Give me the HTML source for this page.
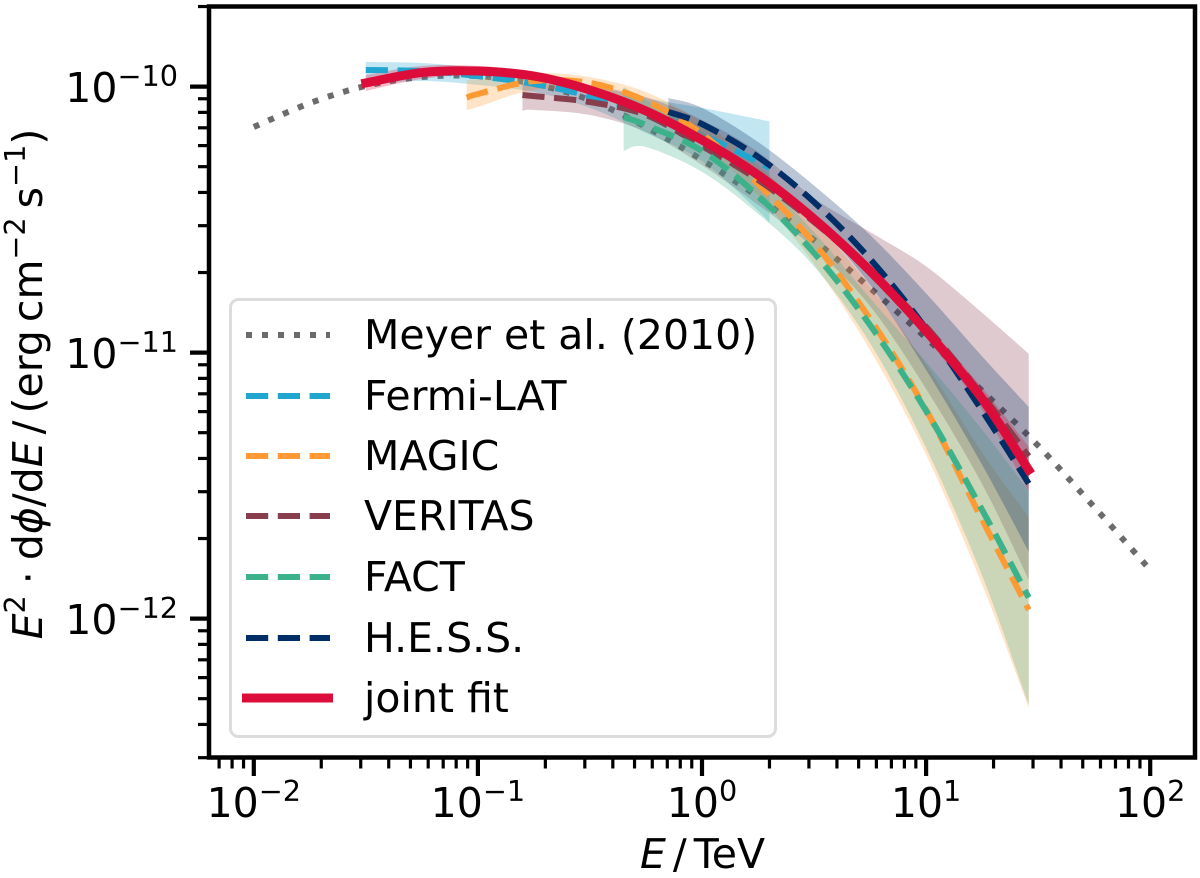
<!DOCTYPE html>
<html>
<head>
<meta charset="utf-8">
<title>Crab spectrum joint fit</title>
<style>
html,body{margin:0;padding:0;background:#fff;}
svg{display:block;font-family:"DejaVu Sans","Liberation Sans",sans-serif;fill:#000;}
</style>
</head>
<body>
<svg id="chart" width="1200" height="878" viewBox="0 0 1200 878" xmlns="http://www.w3.org/2000/svg">
  <g id="series-layer"></g>
  <g id="tick-layer"></g>
  <g id="legend">
    <rect x="230.5" y="299.5" width="545" height="437" rx="8" ry="8" fill="#fff" fill-opacity="0.8" stroke="#dcdcdc" stroke-width="3"/>
    <line x1="246" x2="330" y1="335" y2="335" stroke="#6b6b6b" stroke-width="6" stroke-dasharray="6 10"/>
    <text x="364" y="349" font-size="41">Meyer et al. (2010)</text>
    <line x1="246" x2="330" y1="396" y2="396" stroke="#21a6d0" stroke-width="6" stroke-dasharray="22.2 9.6"/>
    <text x="364" y="410" font-size="41">Fermi-LAT</text>
    <line x1="246" x2="330" y1="456" y2="456" stroke="#fe9a33" stroke-width="6" stroke-dasharray="22.2 9.6"/>
    <text x="364" y="470" font-size="41">MAGIC</text>
    <line x1="246" x2="330" y1="516" y2="516" stroke="#873e4d" stroke-width="6" stroke-dasharray="22.2 9.6"/>
    <text x="364" y="530" font-size="41">VERITAS</text>
    <line x1="246" x2="330" y1="577" y2="577" stroke="#3cb28a" stroke-width="6" stroke-dasharray="22.2 9.6"/>
    <text x="364" y="591" font-size="41">FACT</text>
    <line x1="246" x2="330" y1="638" y2="638" stroke="#002e66" stroke-width="6" stroke-dasharray="22.2 9.6"/>
    <text x="364" y="652" font-size="41">H.E.S.S.</text>
    <line x1="242" x2="333" y1="698" y2="698" stroke="#dc0d3a" stroke-width="9"/>
    <text x="364" y="712" font-size="41">joint fit</text>
  </g>
  <text x="702.5" y="868" font-size="41" text-anchor="middle"><tspan font-style="italic">E</tspan><tspan dx="7">/</tspan><tspan dx="7">TeV</tspan></text>
  <text transform="translate(42,384) rotate(-90)" font-size="41" text-anchor="middle"><tspan font-style="italic">E</tspan><tspan font-size="28.7" dy="-17">2</tspan><tspan dy="17" dx="11">·</tspan><tspan dx="11">d</tspan><tspan font-style="italic">ϕ</tspan><tspan>/d</tspan><tspan font-style="italic">E</tspan><tspan dx="7">/</tspan><tspan dx="7">(erg</tspan><tspan dx="8">cm</tspan><tspan font-size="28.7" dy="-17">−2</tspan><tspan dy="17" dx="9">s</tspan><tspan font-size="28.7" dy="-17">−1</tspan><tspan dy="17">)</tspan></text>
  <rect x="209" y="6.5" width="986" height="751" fill="none" stroke="#000" stroke-width="4.5"/>
</svg>
<script>
// Flux values are in units of 1e-11 erg cm^-2 s^-1; energies are in TeV.
const meyerEnergy = [0.01,0.0178,0.0316,0.0562,0.1,0.178,0.316,0.562,1,1.78,3.16,5.62,10,17.8,31.6,56.2,100];
const meyerFlux = [7.05,8.67,10.06,10.86,10.95,10.23,8.9,7.05,5.3,3.84,2.65,1.75,1.135,0.718,0.447,0.263,0.1525];

const fermiEnergy = [0.0316,0.0562,0.1,0.178,0.316,0.562,1,1.78,2.0];
const fermiFlux = [11.54,11.44,10.95,10.23,9.21,7.96,6.58,5.21,4.94];
const fermiUpper = [12.37,12.27,11.74,11.05,10.15,9.05,8.32,7.55,7.42];
const fermiLower = [10.15,10.5,10.15,9.54,8.32,6.7,5.25,3.41,3.07];

const magicEnergy = [0.0891,0.1,0.178,0.316,0.562,1,1.78,3.16,5.62,10,17.8,28.7];
const magicFlux = [9.09,9.38,10.5,10.32,8.83,6.64,4.3,2.58,1.34,0.609,0.235,0.108];
const magicUpper = [10.59,10.68,11.24,10.86,9.54,7.36,5.07,3.15,1.77,0.9,0.42,0.241];
const magicLower = [8.17,8.38,9.71,9.46,8.03,6.04,3.91,2.154,1.023,0.413,0.134,0.0462];

const veritasEnergy = [0.158,0.178,0.316,0.562,1,1.78,3.16,5.62,10,17.8,28.7];
const veritasFlux = [9.3,9.21,8.75,7.82,5.98,4.455,3.1,2.03,1.25,0.692,0.408];
const veritasUpper = [10.32,10.23,10.06,9.13,7.49,5.68,3.81,2.84,2.11,1.41,0.99];
const veritasLower = [8.1,8.17,7.82,6.75,5.07,3.59,2.47,1.497,0.73,0.32,0.14];

const factEnergy = [0.447,0.562,1,1.78,3.16,5.62,10,17.8,28.7];
const factFlux = [7.68,7.17,5.73,3.88,2.37,1.27,0.604,0.256,0.12];
const factUpper = [9.97,8.9,6.75,4.65,2.84,1.605,0.922,0.512,0.302];
const factLower = [5.73,5.93,4.78,3.32,2.11,1.087,0.438,0.1448,0.0474];

const hessEnergy = [0.708,1,1.78,3.16,5.62,10,17.8,28.7];
const hessFlux = [8.03,7.23,5.44,3.68,2.25,1.23,0.604,0.322];
const hessUpper = [9.05,8.32,6.19,4.25,2.77,1.67,0.967,0.625];
const hessLower = [7.17,6.41,4.78,3.15,1.8,0.861,0.378,0.1785];

const jointEnergy = [0.0316,0.0562,0.1,0.178,0.316,0.562,1,1.78,3.16,5.62,10,17.8,28.7];
const jointFlux = [10.32,11.29,11.44,10.95,9.71,8.1,6.3,4.65,3.18,2.03,1.207,0.67,0.362];
const jointUpper = [11.05,11.96,11.96,11.34,10.06,8.32,6.46,4.78,3.29,2.11,1.28,0.737,0.443];
const jointLower = [9.63,10.68,11.05,10.59,9.38,7.89,6.14,4.53,3.07,1.94,1.135,0.609,0.302];

const xTickExponents = [-2,-1,0,1,2];
const yTickExponents = [-10,-11,-12];
const xMinorDecades = [-3,-2,-1,0,1,2];
const yMinorDecades = [-13,-12,-11,-10];
const minorMultipliers = [2,3,4,5,6,7,8,9];

const NS = 'http://www.w3.org/2000/svg';
const seriesLayer = document.getElementById('series-layer');
const tickLayer = document.getElementById('tick-layer');

function xScale(energy){ return 702 + Math.log10(energy) * 224.1; }
function yScale(flux11){ return 86.6 - (Math.log10(flux11) - 1) * 266; }

function svgEl(tag, parent){
  const el = document.createElementNS(NS, tag);
  parent.appendChild(el);
  return el;
}

function toPoints(energy, flux){
  return energy.map(function(e, i){ return [xScale(e), yScale(flux[i])]; });
}

function smoothSegments(p){
  let d = '';
  for (let i = 0; i < p.length - 1; i++){
    const p0 = p[Math.max(i - 1, 0)], p1 = p[i], p2 = p[i + 1], p3 = p[Math.min(i + 2, p.length - 1)];
    const c1x = p1[0] + (p2[0] - p0[0]) / 6, c1y = p1[1] + (p2[1] - p0[1]) / 6;
    const c2x = p2[0] - (p3[0] - p1[0]) / 6, c2y = p2[1] - (p3[1] - p1[1]) / 6;
    d += 'C' + c1x.toFixed(2) + ' ' + c1y.toFixed(2) + ' ' + c2x.toFixed(2) + ' ' + c2y.toFixed(2) + ' ' + p2[0].toFixed(2) + ' ' + p2[1].toFixed(2);
  }
  return d;
}

function linePath(energy, flux){
  const p = toPoints(energy, flux);
  return 'M' + p[0][0].toFixed(2) + ' ' + p[0][1].toFixed(2) + smoothSegments(p);
}

function bandPath(energy, upper, lower){
  const top = toPoints(energy, upper);
  const bottom = toPoints(energy, lower).reverse();
  return 'M' + top[0][0].toFixed(2) + ' ' + top[0][1].toFixed(2) + smoothSegments(top) +
         'L' + bottom[0][0].toFixed(2) + ' ' + bottom[0][1].toFixed(2) + smoothSegments(bottom) + 'Z';
}

function styleBand(el, energy, upper, lower, color){
  el.setAttribute('d', bandPath(energy, upper, lower));
  el.setAttribute('fill', color);
  el.setAttribute('fill-opacity', '0.27');
  el.setAttribute('stroke', 'none');
}

function styleLine(el, energy, flux, color, width, dash, cap){
  el.setAttribute('d', linePath(energy, flux));
  el.setAttribute('fill', 'none');
  el.setAttribute('stroke', color);
  el.setAttribute('stroke-width', width);
  if (dash) el.setAttribute('stroke-dasharray', dash);
  el.setAttribute('stroke-linecap', cap);
}

const DASHED = '22.2 9.6';

const meyerLine = svgEl('path', seriesLayer);


styleLine(meyerLine, meyerEnergy, meyerFlux, '#6b6b6b', 6, '6 10', 'butt');

const fermiBand = svgEl('path', seriesLayer);


styleBand(fermiBand, fermiEnergy, fermiUpper, fermiLower, '#21a6d0');

const magicBand = svgEl('path', seriesLayer);


styleBand(magicBand, magicEnergy, magicUpper, magicLower, '#fe9a33');

const veritasBand = svgEl('path', seriesLayer);


styleBand(veritasBand, veritasEnergy, veritasUpper, veritasLower, '#873e4d');

const factBand = svgEl('path', seriesLayer);


styleBand(factBand, factEnergy, factUpper, factLower, '#3cb28a');

const hessBand = svgEl('path', seriesLayer);


styleBand(hessBand, hessEnergy, hessUpper, hessLower, '#002e66');

const jointBand = svgEl('path', seriesLayer);


styleBand(jointBand, jointEnergy, jointUpper, jointLower, '#dc0d3a');

const fermiLine = svgEl('path', seriesLayer);


styleLine(fermiLine, fermiEnergy, fermiFlux, '#21a6d0', 6, DASHED, 'butt');

const magicLine = svgEl('path', seriesLayer);


styleLine(magicLine, magicEnergy, magicFlux, '#fe9a33', 6, DASHED, 'butt');

const veritasLine = svgEl('path', seriesLayer);


styleLine(veritasLine, veritasEnergy, veritasFlux, '#873e4d', 6, DASHED, 'butt');

const factLine = svgEl('path', seriesLayer);


styleLine(factLine, factEnergy, factFlux, '#3cb28a', 6, DASHED, 'butt');

const hessLine = svgEl('path', seriesLayer);


styleLine(hessLine, hessEnergy, hessFlux, '#002e66', 6, DASHED, 'butt');

const jointLine = svgEl('path', seriesLayer);


styleLine(jointLine, jointEnergy, jointFlux, '#dc0d3a', 9, null, 'square');

// Axis ticks
xMinorDecades.forEach(function(dec){
  minorMultipliers.forEach(function(m){
    const x = xScale(m * Math.pow(10, dec));
    if (x < 209 || x > 1195) return;
    const t = svgEl('line', tickLayer);
    
    
    t.setAttribute('x1', x); t.setAttribute('x2', x);
    t.setAttribute('y1', 757.5); t.setAttribute('y2', 768.5);
    t.setAttribute('stroke', '#000'); t.setAttribute('stroke-width', 3.2);
  });
});

yMinorDecades.forEach(function(dec){
  minorMultipliers.forEach(function(m){
    const y = yScale(m * Math.pow(10, dec + 11));
    if (y < 6 || y > 758) return;
    const t = svgEl('line', tickLayer);
    
    
    t.setAttribute('y1', y); t.setAttribute('y2', y);
    t.setAttribute('x1', 198); t.setAttribute('x2', 209);
    t.setAttribute('stroke', '#000'); t.setAttribute('stroke-width', 3.2);
  });
});

function addExponent(label, exp){
  const base = svgEl('tspan', label);
  base.textContent = '10';
  const sup = svgEl('tspan', label);
  sup.setAttribute('font-size', '28.7');
  sup.setAttribute('dy', '-16');
  sup.textContent = String(exp).replace('-', '\u2212');
}

xTickExponents.forEach(function(exp){
  const x = xScale(Math.pow(10, exp));
  const t = svgEl('line', tickLayer);
  
  
  t.setAttribute('x1', x); t.setAttribute('x2', x);
  t.setAttribute('y1', 757.5); t.setAttribute('y2', 776);
  t.setAttribute('stroke', '#000'); t.setAttribute('stroke-width', 4.2);
  const label = svgEl('text', tickLayer);
  
  
  label.setAttribute('x', x);
  label.setAttribute('y', 817);
  label.setAttribute('font-size', '41');
  label.setAttribute('text-anchor', 'middle');
  addExponent(label, exp);
});

yTickExponents.forEach(function(exp){
  const y = yScale(Math.pow(10, exp + 11));
  const t = svgEl('line', tickLayer);
  
  
  t.setAttribute('y1', y); t.setAttribute('y2', y);
  t.setAttribute('x1', 190); t.setAttribute('x2', 209);
  t.setAttribute('stroke', '#000'); t.setAttribute('stroke-width', 4.2);
  const label = svgEl('text', tickLayer);
  
  
  label.setAttribute('x', 178);
  label.setAttribute('y', y + 15.4);
  label.setAttribute('font-size', '41');
  label.setAttribute('text-anchor', 'end');
  addExponent(label, exp);
});
</script>
</body>
</html>
